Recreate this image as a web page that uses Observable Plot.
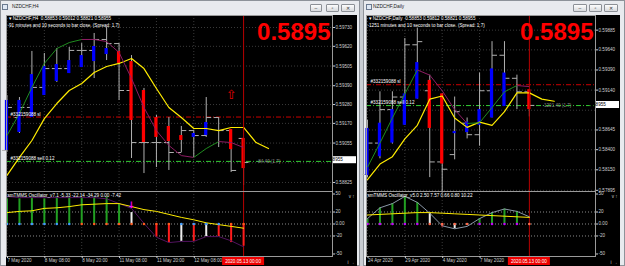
<!DOCTYPE html>
<html><head><meta charset="utf-8">
<script src="https://cdn.jsdelivr.net/npm/d3@7"></script>
<script src="https://cdn.jsdelivr.net/npm/@observablehq/plot@0.6"></script>
<style>
body{margin:0;width:625px;height:266px;overflow:hidden;background:#c9cdd3;position:relative;font-family:"Liberation Sans",Arial,sans-serif}
.win{position:absolute;top:0;height:266px;background:#e8eaee;border:1px solid #8d9299;box-sizing:border-box}
.ttl{position:absolute;top:4px;font-size:4.8px;color:#222}
.ico{position:absolute;top:4px;width:6px;height:6px;border:1px solid #6a7a90;background:#dfe8f4;box-sizing:border-box}
.blk{position:absolute;top:15px;height:251px;background:#000}
.btn{position:absolute;top:4px;height:8px;border:1px solid #8c9096;border-radius:1px;background:linear-gradient(#fdfdfd,#d8dadd);box-sizing:border-box;font-size:5px;line-height:6px;text-align:center;color:#333}
.pl{position:absolute}
</style></head>
<body>
<div class="win" style="left:0;width:360px"></div>
<div class="ico" style="left:2px"></div>
<div class="ttl" style="left:12px">NZDCHF,H4</div>
<div class="btn" style="left:310px;width:12px">–</div>
<div class="btn" style="left:326px;width:13px">▫</div>
<div class="btn" style="left:341px;width:14px">✕</div>
<div class="blk" style="left:6px;width:351px"></div>

<div class="win" style="left:363px;width:262px"></div>
<div class="ico" style="left:366px"></div>
<div class="ttl" style="left:373px">NZDCHF,Daily</div>
<div class="btn" style="left:573px;width:14px">–</div>
<div class="btn" style="left:589px;width:13px">▫</div>
<div class="btn" style="left:604px;width:14px">✕</div>
<div class="blk" style="left:366px;width:254px"></div>

<script>
// ---------------- shared values ----------------
const orderSL = 0.59207;
const orderSell = 0.58948;
const currentPrice = 0.58955;
const bigPriceText = "0.5895";
const cursorTimeLabel = "2020.05.13 00:00";
const oscTicks = [50, 20, 0, -20, -50];
const oscGrid = [20, 0, -20];

// ---------------- left window: NZDCHF,H4 ----------------
const leftInfo1 = "▾ NZDCHF,H4  0.58853 0.59012 0.58821 0.58955";
const leftInfo2 = "-91 minutes and 10 seconds to bar close. (Spread: 1.7)";
const leftIndLabel = "smTMMS Oscillator_v7.1 -5.33 -22.14 -34.29 0.00 -7.42";
const leftSlLabel = "#332159088 sl";
const leftSellLabel = "#332159088 sell 0.12";
const leftPnl = "-84.40 (1.7)";
const leftPriceGrid = [0.59730, 0.59620, 0.59505, 0.59390, 0.59280, 0.59170, 0.59055, 0.58940, 0.58825];
const leftPriceLabels = [0.59730, 0.59620, 0.59505, 0.59390, 0.59280, 0.59170, 0.59055, 0.58825];
const leftTimeIdx = [0, 3, 6, 9, 12, 15];
const leftTimeLabels = ["7 May 2020", "8 May 08:00", "8 May 20:00", "11 May 08:00", "11 May 20:00", "12 May 08:00"];
const leftHigh  = [0.59333,0.59321,0.59590,0.59578,0.59607,0.59613,0.59636,0.59695,0.59730,0.59636,0.59566,0.59374,0.59216,0.59204,0.59152,0.59128,0.59321,0.59204,0.59128,0.59082];
const leftLow   = [0.59000,0.59111,0.59204,0.59333,0.59409,0.59461,0.59496,0.59432,0.59537,0.59304,0.58965,0.58877,0.58912,0.58895,0.59000,0.58971,0.59088,0.59029,0.58883,0.58807];
const leftOpen  = [0.59012,0.59204,0.59263,0.59380,0.59490,0.59490,0.59596,0.59596,0.59660,0.59636,0.59362,0.59058,0.59058,0.59058,0.59000,0.59128,0.59099,0.59204,0.59128,0.59082];
const leftClose = [0.59263,0.59263,0.59380,0.59490,0.59490,0.59596,0.59596,0.59660,0.59636,0.59362,0.59058,0.59058,0.59058,0.59000,0.59128,0.59099,0.59204,0.59128,0.58895,0.58942];
const leftHaOpen  = [0.59012,0.59117,0.59204,0.59333,0.59415,0.59461,0.59496,0.59531,0.59572,0.59590,0.59531,0.59362,0.59204,0.59152,0.59099,0.59088,0.59099,0.59160,0.59134,0.59082];
const leftHaClose = [0.59304,0.59304,0.59455,0.59502,0.59514,0.59537,0.59566,0.59619,0.59607,0.59520,0.59187,0.59058,0.59088,0.59064,0.59070,0.59111,0.59175,0.59160,0.59017,0.58906];
const leftBand   = [0.58866,0.58971,0.59070,0.59198,0.59286,0.59362,0.59403,0.59467,0.59502,0.59520,0.59549,0.59490,0.59374,0.59263,0.59204,0.59140,0.59140,0.59128,0.59146,0.59146,0.59058,0.59023];
const leftCenter = [0.59099,0.59228,0.59380,0.59520,0.59607,0.59642,0.59660,0.59660,0.59648,0.59584,0.59432,0.59263,0.59128,0.59041,0.58982,0.58971,0.59023,0.59064,0.59058,0.59029];
const leftUpArrowIdx = [18];
const leftUpArrowPrice = [0.59335];
const leftHist = [42,42,44,42,44,44,44,44,44,34,19,0,-22,-31,-29,-29,-21,-21,-31,-37];
const leftHistState = ["up","up","up","up","up","up","up","up","up","up","flat","none","down","down","flat","down","flat","down","down","down"];
const leftOsc = [46,44,44,44,44,44,44,44,42,34,26,1,-22,-31,-29,-29,-21,-21,-28,-38];
const leftSignal = [19,21,22,26,27,29,32,33,34,34,29,24,21,16,11,7,2,-1,-4,-7];
const leftDotState = ["blue","blue","blue","blue","blue","blue","orange","orange","orange","orange","orange","orange","orange","orange","blue","blue","blue","blue","orange","orange"];
const leftDownArrowIdx = [10];
const leftDownArrowVal = [31];

// ---------------- right window: NZDCHF,Daily ----------------
const rightInfo1 = "▾ NZDCHF,Daily  0.58853 0.59812 0.58821 0.58955";
const rightInfo2 = "-1251 minutes and 10 seconds to bar close. (Spread: 1.7)";
const rightIndLabel = "smTMMS Oscillator_v5.0 2.50 7.57 0.66 0.80 10.22";
const rightSlLabel = "#332159088 sl";
const rightSellLabel = "#332159088 sell 0.12";
const rightPnl = "-1201.40 (1.7)";
const rightPriceGrid = [0.59885, 0.59640, 0.59390, 0.59140, 0.58890, 0.58645, 0.58400, 0.58150, 0.57895];
const rightPriceLabels = [0.59885, 0.59640, 0.59390, 0.59140, 0.58645, 0.58400, 0.58150, 0.57895];
const rightTimeIdx = [0, 3, 6, 9];
const rightTimeLabels = ["24 Apr 2020", "29 Apr 2020", "4 May 2020", "7 May 2020"];
const rightHigh  = [0.58768,0.59119,0.59119,0.59781,0.59911,0.59326,0.59093,0.59054,0.58794,0.59352,0.59742,0.59742,0.59326,0.59145];
const rightLow   = [0.58053,0.58287,0.58469,0.58703,0.59028,0.58053,0.57859,0.58274,0.58534,0.58443,0.58794,0.58937,0.58898,0.58807];
const rightOpen  = [0.58092,0.58482,0.58898,0.59054,0.59703,0.59132,0.58248,0.58339,0.58729,0.58586,0.59132,0.59573,0.59287,0.59119];
const rightClose = [0.58482,0.58898,0.59054,0.59703,0.59742,0.58248,0.58157,0.58872,0.58586,0.59132,0.59573,0.59287,0.59119,0.58950];
const rightHaOpen  = [0.58079,0.58313,0.58482,0.58703,0.59028,0.59261,0.59093,0.58599,0.58612,0.58703,0.58794,0.58937,0.59150,0.59145];
const rightHaClose = [0.58664,0.58729,0.58898,0.59093,0.59482,0.58664,0.58222,0.58625,0.58742,0.58898,0.59404,0.59352,0.59150,0.58898];
const rightBand   = [0.58027,0.58222,0.58313,0.58534,0.58703,0.59028,0.59067,0.58794,0.58677,0.58742,0.58703,0.58872,0.59106,0.59106,0.59028,0.59002];
const rightCenter = [0.58183,0.58482,0.58794,0.59093,0.59391,0.59326,0.59132,0.58898,0.58725,0.58735,0.58924,0.59119,0.59197,0.59184];
const rightHist = [8,27,34,46,36,18,-5,-8,0,9,19,25,21,0];
const rightHistState = ["up","up","up","up","up","flat","down","flat","none","up","up","up","up","none"];
const rightOsc = [9,27,34,46,36,18,-3,-8,-4,9,19,25,21,12];
const rightSignal = [15,16,17,18,19,19,18,17,16,15,14,13,12,11];
const rightDotState = ["violet","violet","violet","violet","violet","salmon","salmon","salmon","salmon","violet","violet","violet","violet","salmon"];

// ---------------- drawing ----------------
const FONT = "Liberation Sans, Arial, sans-serif";
const FS = 4.6;
const histColors = {up: "#22a022", flat: "#eeeeee", down: "#ff1c1c", none: "none"};
const dotColors = {blue: "#3d9bff", orange: "#ff5a1e", violet: "#c400ff", salmon: "#ff6a4a"};
const BAR = "#b0b0b0";
const CURSOR = "#b80000";

function place(el, left, top) {
  el.classList.add("pl");
  el.style.left = left + "px";
  el.style.top = top + "px";
  document.body.appendChild(el);
}

function priceBox(price) {
  return (index, scales, values, dims) => {
    const y = scales.y(price);
    const x = dims.width - dims.marginRight + 1;
    const g = d3.create("svg:g");
    g.append("rect").attr("x", x).attr("y", y - 3.5).attr("width", 23).attr("height", 7).attr("fill", "#fff");
    g.append("text").attr("x", x + 1.5).attr("y", y).attr("dy", "0.35em").attr("font-size", FS)
      .attr("font-family", FONT).attr("fill", "#000").text(price.toFixed(5));
    return g.node();
  };
}

function timeBox(idx, label) {
  return (index, scales, values, dims) => {
    const x = scales.x(idx);
    const y = dims.height - dims.marginBottom + 1;
    const g = d3.create("svg:g");
    g.append("rect").attr("x", x - 21).attr("y", y).attr("width", 42).attr("height", 8).attr("fill", "#ee0000");
    g.append("text").attr("x", x).attr("y", y + 4).attr("dy", "0.35em").attr("text-anchor", "middle")
      .attr("font-size", FS).attr("font-family", FONT).attr("fill", "#fff").text(label);
    return g.node();
  };
}

function drawWindow(c) {
  const n = c.high.length;
  const bars = d3.range(n).map(i => ({i, hi: c.high[i], lo: c.low[i], o: c.open[i], cl: c.close[i], ho: c.haOpen[i], hc: c.haClose[i]}));
  const bodies = bars.filter(d => d.ho !== d.hc).map(d => ({...d, col: d.hc > d.ho ? "#0000ff" : "#ff0000"}));
  const band = c.band.map((v, i) => ({i, v}));
  const segs = d3.range(c.center.length - 1).map(i => ({
    x1: i, y1: c.center[i], x2: i + 1, y2: c.center[i + 1],
    col: c.center[i + 1] > c.center[i] ? "#1f8c1f" : "#8e1c63"
  }));
  const fmtTime = d => c.timeLabels[c.timeIdx.indexOf(d)];
  const upArrows = (c.upIdx || []).map((i, k) => ({i, v: c.upPrice[k]}));

  const main = Plot.plot({
    width: c.width, height: 176,
    marginTop: 0, marginBottom: 0, marginLeft: 0, marginRight: 25,
    style: {background: "transparent", overflow: "visible", fontFamily: FONT},
    x: {domain: c.xDomain, axis: null},
    y: {domain: c.yDomain, axis: null},
    color: {type: "identity"},
    marks: [
      Plot.gridY(c.priceGrid, {stroke: "#3a3a3a", strokeOpacity: 1, strokeDasharray: "1,2"}),
      Plot.gridX(c.timeIdx, {stroke: "#3a3a3a", strokeOpacity: 1, strokeDasharray: "1,2"}),
      Plot.ruleY([orderSL], {stroke: "#c80000", strokeDasharray: "5,2,1,2"}),
      Plot.ruleY([orderSell], {stroke: "#33cc33", strokeDasharray: "5,2,1,2"}),
      Plot.ruleX(bars, {x: "i", y1: "lo", y2: "hi", stroke: BAR}),
      Plot.link(bars, {x1: d => d.i - 0.4, x2: "i", y1: "o", y2: "o", stroke: BAR}),
      Plot.link(bars, {x1: "i", x2: d => d.i + 0.4, y1: "cl", y2: "cl", stroke: BAR}),
      Plot.rect(bodies, {x1: d => d.i - 0.13, x2: d => d.i + 0.13, y1: "ho", y2: "hc", fill: "col"}),
      Plot.line(band, {x: "i", y: "v", stroke: "#ffec00", strokeWidth: 1.2}),
      Plot.link(segs, {x1: "x1", y1: "y1", x2: "x2", y2: "y2", stroke: "col", strokeWidth: 1}),
      Plot.ruleX([c.cur], {stroke: CURSOR}),
      Plot.text(upArrows, {x: "i", y: "v", text: () => "⇧", fill: "#e00000", fontSize: 13, fontFamily: "DejaVu Sans"}),
      Plot.text([c.slLabel], {x: c.xDomain[0], y: orderSL, dx: 4, dy: -3, textAnchor: "start", fontSize: FS, fill: "#ffffff"}),
      Plot.text([c.sellLabel], {x: c.xDomain[0], y: orderSell, dx: 4, dy: -3, textAnchor: "start", fontSize: FS, fill: "#ffffff"}),
      Plot.text([c.pnl], {x: c.cur + 1.05, y: orderSell, textAnchor: "start", fontSize: FS, fill: "#8a8a8a"}),
      Plot.text([c.info1], {frameAnchor: "top-left", dx: 2, dy: 3.5, lineAnchor: "middle", textAnchor: "start", fontSize: FS, fill: "#ffffff"}),
      Plot.text([c.info2], {frameAnchor: "top-left", dx: 1, dy: 10, lineAnchor: "middle", textAnchor: "start", fontSize: FS, fill: "#ffffff"}),
      Plot.text([bigPriceText], {frameAnchor: "top-right", dx: -2, dy: 7.5, lineAnchor: "top", textAnchor: "end", fontSize: 24, fontWeight: "bold", fill: "#ff0000"}),
      Plot.frame({stroke: "#9a9a9a"}),
      Plot.axisY(c.priceLabels, {anchor: "right", tickSize: 2, tickPadding: 1, tickFormat: d => d.toFixed(5), fontSize: FS, color: "#cfcfcf"}),
      priceBox(currentPrice)
    ]
  });
  place(main, c.left, 15);

  const hist = c.hist.map((v, i) => ({i, v, col: histColors[c.histState[i]]})).filter(d => d.col !== "none" && d.v !== 0);
  const dots = c.dotState.map((s, i) => ({i, col: dotColors[s]}));
  const osc = c.osc.map((v, i) => ({i, v}));
  const sig = c.signal.map((v, i) => ({i, v}));
  const downArrows = (c.downIdx || []).map((i, k) => ({i, v: c.downVal[k]}));

  const ind = Plot.plot({
    width: c.width, height: 75,
    marginTop: 0, marginBottom: 10, marginLeft: 0, marginRight: 25,
    style: {background: "transparent", overflow: "visible", fontFamily: FONT},
    x: {domain: c.xDomain, axis: null},
    y: {domain: [-54.17, 54.17], axis: null},
    color: {type: "identity"},
    marks: [
      Plot.ruleY(oscGrid, {stroke: "#8a8a8a", strokeDasharray: "1,2"}),
      Plot.gridX(c.timeIdx, {stroke: "#3a3a3a", strokeOpacity: 1, strokeDasharray: "1,2"}),
      Plot.ruleX([c.cur], {stroke: CURSOR}),
      Plot.ruleX(hist, {x: "i", y1: 0, y2: "v", stroke: "col", strokeWidth: 2}),
      Plot.line(osc, {x: "i", y: "v", stroke: c.oscColor, strokeWidth: 1}),
      Plot.line(sig, {x: "i", y: "v", stroke: "#ffec00", strokeWidth: 1}),
      Plot.dot(dots, {x: "i", y: 0, r: 1.3, fill: "col"}),
      Plot.text(downArrows, {x: "i", y: "v", text: () => "↓", fill: "#ff00ff", fontSize: 9, fontWeight: "bold", fontFamily: "DejaVu Sans"}),
      Plot.text([c.indLabel], {frameAnchor: "top-left", dx: 1, dy: 4, lineAnchor: "middle", textAnchor: "start", fontSize: FS, fill: "#ffffff"}),
      Plot.frame({stroke: "#9a9a9a"}),
      Plot.axisY(oscTicks, {anchor: "right", tickSize: 2, tickPadding: 1, tickFormat: d => d === 0 ? "0.00" : String(d), fontSize: FS, color: "#cfcfcf"}),
      Plot.axisX(c.timeIdx, {anchor: "bottom", tickSize: 2, tickPadding: 0.5, textAnchor: "start", dx: 0.5, tickFormat: fmtTime, fontSize: FS, color: "#cfcfcf"}),
      timeBox(c.cur, cursorTimeLabel)
    ]
  });
  place(ind, c.left, 191);
}

drawWindow({
  left: 6, width: 351, xDomain: [-0.04, 26.14], yDomain: [0.587722, 0.59800], cur: 19,
  high: leftHigh, low: leftLow, open: leftOpen, close: leftClose, haOpen: leftHaOpen, haClose: leftHaClose,
  band: leftBand, center: leftCenter, priceGrid: leftPriceGrid, priceLabels: leftPriceLabels,
  timeIdx: leftTimeIdx, timeLabels: leftTimeLabels,
  info1: leftInfo1, info2: leftInfo2, slLabel: leftSlLabel, sellLabel: leftSellLabel, pnl: leftPnl,
  upIdx: leftUpArrowIdx, upPrice: leftUpArrowPrice,
  hist: leftHist, histState: leftHistState, osc: leftOsc, oscColor: "#52135f", signal: leftSignal, dotState: leftDotState,
  downIdx: leftDownArrowIdx, downVal: leftDownArrowVal, indLabel: leftIndLabel
});

drawWindow({
  left: 366, width: 254, xDomain: [-0.08, 18.31], yDomain: [0.578806, 0.600669], cur: 13,
  high: rightHigh, low: rightLow, open: rightOpen, close: rightClose, haOpen: rightHaOpen, haClose: rightHaClose,
  band: rightBand, center: rightCenter, priceGrid: rightPriceGrid, priceLabels: rightPriceLabels,
  timeIdx: rightTimeIdx, timeLabels: rightTimeLabels,
  info1: rightInfo1, info2: rightInfo2, slLabel: rightSlLabel, sellLabel: rightSellLabel, pnl: rightPnl,
  hist: rightHist, histState: rightHistState, osc: rightOsc, oscColor: "#8a98a8", signal: rightSignal, dotState: rightDotState,
  indLabel: rightIndLabel
});
</script>
</body></html>
